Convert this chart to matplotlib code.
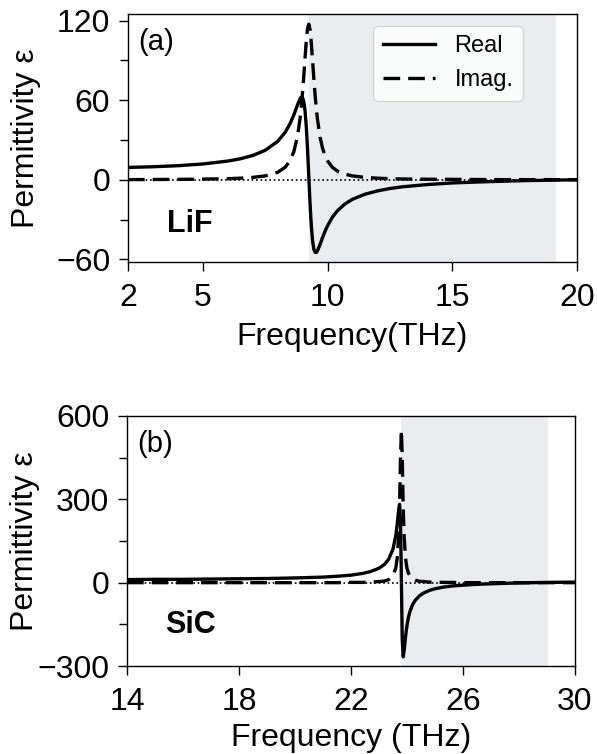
import matplotlib
matplotlib.use("Agg")
import matplotlib.pyplot as plt
from matplotlib.ticker import MultipleLocator

plt.rcParams['font.family'] = ['Liberation Sans', 'DejaVu Sans']

# ========== LiF (a) ==========
lif_f = [2, 3, 4, 5, 6, 6.5, 7, 7.5, 8, 8.3, 8.5, 8.65, 8.8, 8.9, 8.95, 9.0, 9.05, 9.1,
         9.15, 9.2, 9.25, 9.3, 9.35, 9.4, 9.45, 9.5, 9.55, 9.6, 9.7, 9.8, 9.9, 10, 10.2,
         10.4, 10.7, 11, 11.5, 12, 12.5, 13, 14, 15, 16, 17, 18, 19, 20]
lif_re = [9.3, 9.8, 10.6, 11.9, 14.1, 15.8, 18.3, 22.2, 28.9, 35.7, 42.4, 48.9, 56.6, 61.1,
          62.3, 61.9, 58.8, 51.7, 39.6, 22.4, 1.9, -18.2, -34.7, -45.9, -52.2, -54.7, -54.8,
          -53.4, -48.8, -43.6, -38.8, -34.7, -28.1, -23.3, -18.2, -14.7, -10.9, -8.4, -6.6,
          -5.3, -3.6, -2.4, -1.7, -1.1, -0.6, -0.3, 0.0]
lif_im = [0.1, 0.2, 0.3, 0.5, 0.8, 1.2, 1.8, 2.9, 5.6, 9.4, 14.5, 21.2, 33.2, 46.4, 55.4,
          66.2, 78.8, 92.3, 105.0, 114.3, 117.3, 113.1, 103.0, 90.0, 76.6, 64.3, 53.8, 45.1,
          32.3, 23.8, 18.1, 14.2, 9.3, 6.5, 4.2, 2.9, 1.8, 1.2, 0.8, 0.6, 0.4, 0.3, 0.2, 0.1,
          0.1, 0.1, 0.1]
lif_band = [9.27, 19.15]

# ========== SiC (b) ==========
sic_f = [14, 15, 16, 17, 18, 19, 20, 21, 21.5, 22, 22.4, 22.7, 23, 23.2, 23.35, 23.5, 23.6,
         23.65, 23.7, 23.735, 23.77, 23.8, 23.83, 23.865, 23.9, 23.95, 24.0, 24.05, 24.1,
         24.2, 24.3, 24.45, 24.6, 24.8, 25, 25.3, 25.6, 26, 26.5, 27, 28, 29, 30]
sic_re = [11, 12, 12, 13, 14, 15, 17, 20, 23, 27, 33, 40, 52, 66, 85, 121, 169, 208, 259,
          282, 216, 7, -202, -267, -243, -193, -154, -126, -106, -79, -63, -47, -37, -28,
          -22, -16, -12, -9, -6, -4, -1, 1, 2]
sic_im = [0, 0, 0, 0, 0, 0, 0, 0, 0, 1, 1, 2, 4, 6, 11, 25, 53, 87, 163, 275, 453, 549, 452,
          274, 163, 87, 52, 35, 25, 14, 9, 5, 4, 2, 2, 1, 1, 0, 0, 0, 0, 0, 0]
sic_band = [23.79, 29.04]

fs = 23
dash = (5.0, 2.4)
shade = '#eaedef'

fig = plt.figure(figsize=(5.97, 7.54), dpi=100)
ax1 = fig.add_axes([0.2144, 0.6525, 0.752, 0.329])
ax2 = fig.add_axes([0.2127, 0.1167, 0.7504, 0.3316])

panels = [
    (ax1, lif_f, lif_re, lif_im, lif_band, "(a)", "LiF", "Frequency(THz)",
     (2, 20), [2, 5, 10, 15, 20], (-62, 125), [-60, 0, 60, 120], 30, 0.153, -0.242),
    (ax2, sic_f, sic_re, sic_im, sic_band, "(b)", "SiC", "Frequency (THz)",
     (14, 30), [14, 18, 22, 26, 30], (-300, 600), [-300, 0, 300, 600], 150, 0.164, -0.226),
]

for ax, f, re, im, band, tag, mat, xl, xlim, xt, ylim, yt, ymin, ymat, xly in panels:
    ax.axvspan(band[0], band[1], color=shade, lw=0, zorder=0)
    ax.axhline(0, color='k', ls=':', lw=1.2, zorder=1)
    ax.plot(f, re, 'k-', lw=2.4, label="Real", zorder=3)
    ax.plot(f, im, 'k--', lw=2.4, dashes=dash, label="Imag.", zorder=2)
    ax.set_xlim(*xlim)
    ax.set_ylim(*ylim)
    ax.set_xticks(xt)
    ax.set_yticks(yt)
    ax.yaxis.set_minor_locator(MultipleLocator(ymin))
    ax.tick_params(which='major', length=6.8, width=1, labelsize=fs)
    ax.tick_params(axis='x', which='major', pad=8)
    ax.tick_params(axis='y', which='major', pad=6)
    ax.tick_params(which='minor', length=5.5, width=1)
    for s in ax.spines.values():
        s.set_linewidth(1)
    ax.set_xlabel(xl, fontsize=fs)
    ax.xaxis.set_label_coords(0.5, xly)
    ax.set_ylabel("Permittivity ε", fontsize=fs)
    ax.yaxis.set_label_coords(-0.194, 0.5)
    ax.text(0.022, 0.945, tag, transform=ax.transAxes, fontsize=21, va='top', ha='left')
    ax.text(0.086, ymat, mat, transform=ax.transAxes, fontsize=22, fontweight='bold',
            va='center', ha='left')

leg = ax1.legend(loc='upper right', bbox_to_anchor=(0.88, 0.952), borderaxespad=0,
                 fontsize=17, handlelength=2.2, handletextpad=0.85, frameon=True,
                 fancybox=True)
leg.get_frame().set_edgecolor('#cccccc')
leg.get_frame().set_linewidth(1)

plt.savefig("out.png", dpi=100)
plt.close()
